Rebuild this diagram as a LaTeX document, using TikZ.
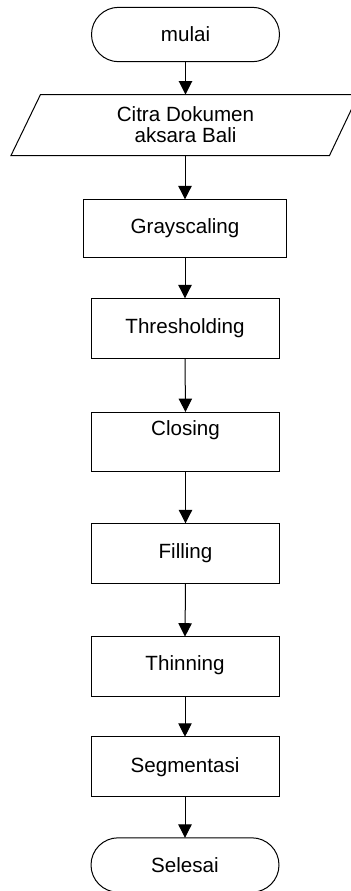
\documentclass[tikz,border=0pt]{standalone}
\usepackage{fontspec}
\setmainfont{Liberation Sans}
\usetikzlibrary{arrows.meta}
\tikzset{
  base/.style={draw=black, line width=0.5pt, inner sep=0pt, outer sep=0pt,
    font=\fontsize{10.3pt}{10.4pt}\selectfont, align=center},
  term/.style={base, rectangle, rounded corners=13.6pt, minimum width=94pt, minimum height=27.2pt},
  proc/.style={base, rectangle, minimum width=94pt, minimum height=30pt},
  txt/.style={inner sep=0pt, outer sep=0pt, font=\fontsize{10.3pt}{10.4pt}\selectfont, align=center},
  flow/.style={line width=0.5pt, -{Triangle[length=6.7pt,width=6.7pt]}},
  outline/.style={draw=black, line width=0.5pt, line join=miter}
}
\begin{document}
\begin{tikzpicture}[x=0.5pt,y=-0.5pt]
\useasboundingbox (0,0) rectangle (351,891);
\clip (0,0) rectangle (351,891);
\node[term] (mulai) at (185.5,34.5) {mulai};
\draw[outline] (11,155.5) -- (40.5,94.5) -- (358.5,94.5) -- (329.5,155.5) -- cycle;
\node[txt, minimum height=30.5pt] (para) at (185.5,125) {Citra Dokumen\\aksara Bali};
\node[proc, minimum width=101.3pt, minimum height=29pt] (gray) at (185,228.3) {Grayscaling};
\node[proc, minimum height=30.2pt] (thresh) at (185,328.5) {Thresholding};
\node[proc, minimum height=29.7pt] (closing) at (185.5,441.7) {};
\node[txt] (closingtext) at (185.5,430) {Closing};
\node[proc] (filling) at (185.5,553.3) {Filling};
\node[proc, minimum height=29.7pt] (thinning) at (185,666.3) {};
\node[txt] (thinningtext) at (185,665) {Thinning};
\node[proc] (segment) at (185,766.7) {Segmentasi};
\node[term] (selesai) at (185,865) {Selesai};
\draw[flow] (mulai.south) -- (mulai.south |- para.north);
\draw[flow] (para.south -| gray.north) -- (gray.north);
\draw[flow] (gray.south) -- (thresh.north);
\draw[flow] (thresh.south) -- (closing.north);
\draw[flow] (closing.south) -- (filling.north);
\draw[flow] (filling.south) -- (thinning.north);
\draw[flow] (thinning.south) -- (segment.north);
\draw[flow] (segment.south) -- (selesai.north);
\end{tikzpicture}
\end{document}
